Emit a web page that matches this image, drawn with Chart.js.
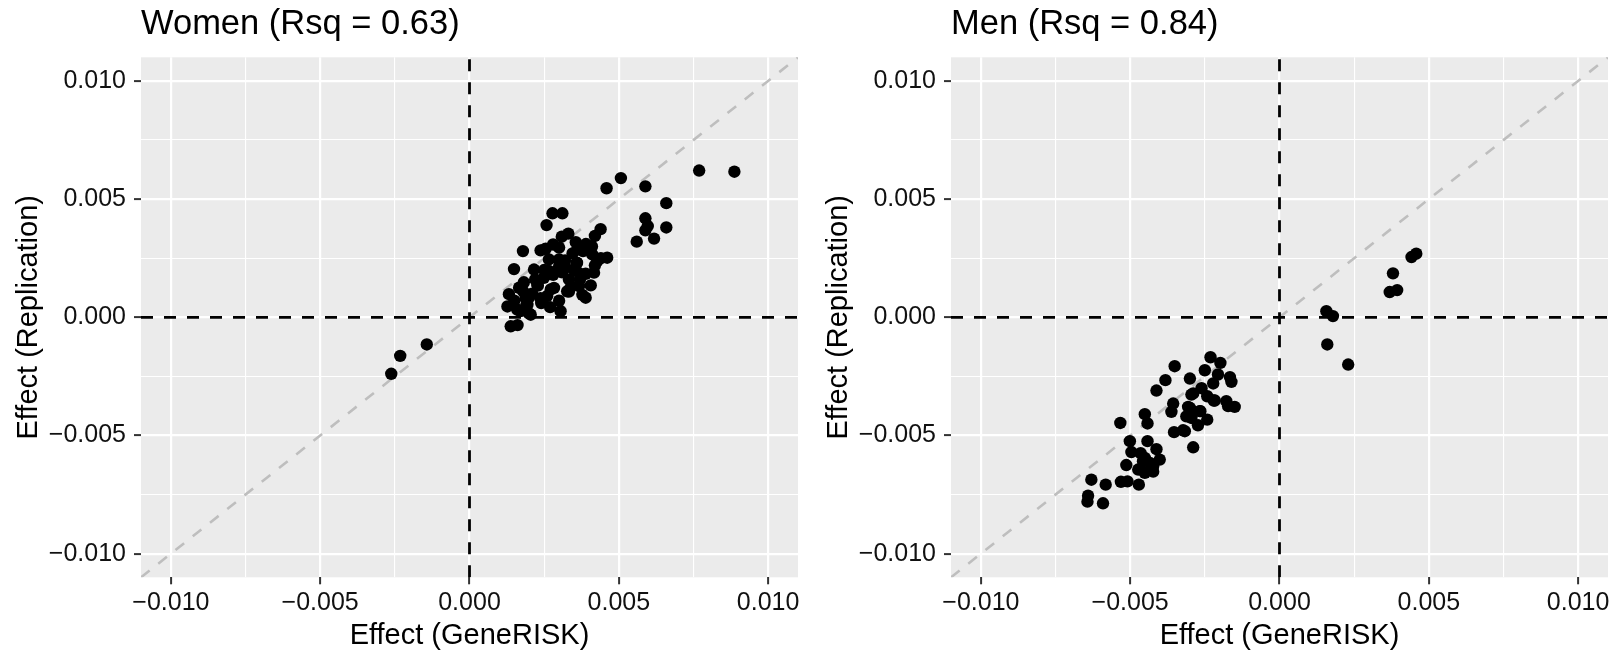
<!DOCTYPE html>
<html>
<head>
<meta charset="utf-8">
<title>GeneRISK replication</title>
<script src="https://cdn.jsdelivr.net/npm/chart.js@4.4.1/dist/chart.umd.min.js"></script>
<style>
  body { margin: 0; background: #fff; overflow: hidden; }
  .panel { position: absolute; top: 0; width: 810px; height: 656px; }
  #left { left: 0; }
  #right { left: 810px; }
</style>
</head>
<body>
<div class="panel" id="left"><canvas id="womenChart"></canvas></div>
<div class="panel" id="right"><canvas id="menChart"></canvas></div>
<script>
// effect sizes
const womenX = [0.00769, 0.00887, 0.00507, 0.00459, 0.00589, 0.00659, 0.00589, 0.00597, 0.00589, 0.00659,
  0.00560, 0.00618, -0.00143, -0.00232, -0.00262, 0.00278, 0.00311, 0.00258, 0.00179, 0.00238,
  0.00439, 0.00420, 0.00331, 0.00309, 0.00356, 0.00280, 0.00400, 0.00361, 0.00411, 0.00461,
  0.00428, 0.00359, 0.00266, 0.00300, 0.00149, 0.00216, 0.00266, 0.00322, 0.00389, 0.00417,
  0.00249, 0.00333, 0.00182, 0.00406, 0.00229, 0.00367, 0.00272, 0.00166, 0.00132, 0.00327,
  0.00389, 0.00199, 0.00127, 0.00270, 0.00305, 0.00171, 0.00199, 0.00138, 0.00161, 0.00378,
  0.00333, 0.00283, 0.00194, 0.00160, 0.00205, 0.00238, 0.00188, 0.00367, 0.00300, 0.00227,
  0.00345, 0.00380, 0.00390, 0.00300, 0.00250, 0.00280, 0.00320, 0.00350, 0.00210, 0.00240,
  0.00300, 0.00420, 0.00440, 0.00370, 0.00255, 0.00150, 0.00180, 0.00220, 0.00260, 0.00340,
  0.00310, 0.00190, 0.00360, 0.00410];
const womenY = [0.00621, 0.00616, 0.00589, 0.00546, 0.00554, 0.00483, 0.00419, 0.00386, 0.00368, 0.00380,
  0.00320, 0.00333, -0.00115, -0.00163, -0.00239, 0.00440, 0.00440, 0.00390, 0.00280, 0.00283,
  0.00373, 0.00344, 0.00354, 0.00341, 0.00318, 0.00308, 0.00301, 0.00287, 0.00266, 0.00252,
  0.00238, 0.00231, 0.00245, 0.00245, 0.00204, 0.00202, 0.00196, 0.00210, 0.00184, 0.00189,
  0.00167, 0.00160, 0.00148, 0.00135, 0.00134, 0.00132, 0.00118, 0.00125, 0.00098, 0.00110,
  0.00083, 0.00083, 0.00046, 0.00043, 0.00026, 0.00026, 0.00017, -0.00038, -0.00033, 0.00095,
  0.00109, 0.00124, 0.00053, 0.00032, 0.00011, 0.00081, 0.00081, 0.00187, 0.00215, 0.00138,
  0.00270, 0.00280, 0.00310, 0.00295, 0.00200, 0.00180, 0.00240, 0.00200, 0.00100, 0.00060,
  0.00070, 0.00220, 0.00250, 0.00160, 0.00290, 0.00070, 0.00110, 0.00160, 0.00090, 0.00130,
  0.00190, 0.00050, 0.00230, 0.00300];

const menX = [-0.00231, -0.00198, -0.00351, -0.00250, -0.00206, -0.00300, -0.00382, -0.00166, -0.00161, -0.00222,
  -0.00261, -0.00412, -0.00289, -0.00242, -0.00220, -0.00178, -0.00150, -0.00172, -0.00356, -0.00362,
  -0.00306, -0.00265, -0.00312, -0.00295, -0.00242, -0.00273, -0.00451, -0.00442, -0.00323, -0.00353,
  -0.00533, -0.00501, -0.00442, -0.00289, -0.00496, -0.00412, -0.00465, -0.00451, -0.00401, -0.00434,
  -0.00513, -0.00473, -0.00423, -0.00451, -0.00630, -0.00582, -0.00531, -0.00509, -0.00471, -0.00641,
  -0.00643, -0.00591, -0.00457, -0.00423, -0.00317, -0.00295, -0.00300, -0.00267, -0.00217,
  0.00157, 0.00179, 0.00160, 0.00230, 0.00380, 0.00369, 0.00394, 0.00442, 0.00458];
const menY = [-0.00169, -0.00193, -0.00207, -0.00224, -0.00242, -0.00259, -0.00266, -0.00253, -0.00273, -0.00280,
  -0.00300, -0.00310, -0.00322, -0.00334, -0.00352, -0.00355, -0.00379, -0.00376, -0.00365, -0.00400,
  -0.00379, -0.00397, -0.00419, -0.00426, -0.00433, -0.00457, -0.00410, -0.00449, -0.00478, -0.00486,
  -0.00447, -0.00524, -0.00524, -0.00550, -0.00570, -0.00558, -0.00575, -0.00595, -0.00602, -0.00616,
  -0.00625, -0.00644, -0.00653, -0.00658, -0.00687, -0.00708, -0.00696, -0.00694, -0.00708, -0.00755,
  -0.00780, -0.00787, -0.00609, -0.00630, -0.00482, -0.00327, -0.00383, -0.00397, -0.00352,
  0.00026, 0.00005, -0.00115, -0.00200, 0.00186, 0.00107, 0.00115, 0.00255, 0.00269];

const tickValues = [-0.01, -0.0075, -0.005, -0.0025, 0, 0.0025, 0.005, 0.0075, 0.01];
const axisLimit = 0.011;

const fontFamily = '"Liberation Sans", Arial, Helvetica, sans-serif';
Chart.defaults.font.family = fontFamily;

// grey panel background like ggplot
const panelBg = {
  id: 'panelBg',
  beforeDraw(chart) {
    const a = chart.chartArea;
    const ctx = chart.ctx;
    ctx.save();
    ctx.fillStyle = '#EBEBEB';
    ctx.fillRect(a.left, a.top, a.right - a.left, a.bottom - a.top);
    ctx.restore();
  }
};

function fmt(v) {
  return v.toFixed(3).replace('-', '\u2212');
}

function axis(title, isX) {
  return {
    type: 'linear',
    min: -axisLimit,
    max: axisLimit,
    afterBuildTicks: s => { s.ticks = tickValues.map(v => ({ value: v })); },
    afterFit: s => {
      if (isX) s.height = 78.7;
      else s.width = 141;
    },
    border: { display: false },
    grid: {
      color: '#FFFFFF',
      lineWidth: c => (c.index % 2 === 0 ? 2.2 : 1.1),
      tickColor: c => (c.index % 2 === 0 ? '#333333' : 'rgba(0,0,0,0)'),
      tickLength: 7,
      tickWidth: 2
    },
    ticks: {
      autoSkip: false,
      maxRotation: 0,
      padding: isX ? 4 : 8,
      color: '#111111',
      font: { size: 25 },
      callback: (v, i) => (i % 2 === 0 ? fmt(v) : '')
    },
    title: {
      display: true,
      text: title,
      color: '#000000',
      font: { size: 29 },
      padding: isX ? { top: 0, bottom: 3 } : { top: 12, bottom: 0 }
    }
  };
}

function pairs(xs, ys) {
  return xs.map((x, i) => ({ x: x, y: ys[i] }));
}

function makeChart(id, titleText, xs, ys) {
  const ctx = document.getElementById(id).getContext('2d');
  return new Chart(ctx, {
    type: 'scatter',
    data: {
      datasets: [
        {
          label: 'points',
          data: pairs(xs, ys),
          backgroundColor: '#000000',
          borderWidth: 0,
          pointRadius: 6.2
        },
        {
          type: 'line',
          label: 'zero x',
          data: [{ x: 0, y: -axisLimit }, { x: 0, y: axisLimit }],
          borderColor: '#000000',
          borderWidth: 2.8,
          borderDash: [12, 11],
          pointRadius: 0
        },
        {
          type: 'line',
          label: 'zero y',
          data: [{ x: -axisLimit, y: 0 }, { x: axisLimit, y: 0 }],
          borderColor: '#000000',
          borderWidth: 2.8,
          borderDash: [12, 11],
          pointRadius: 0
        },
        {
          type: 'line',
          label: 'identity',
          data: [{ x: -axisLimit, y: -axisLimit }, { x: axisLimit, y: axisLimit }],
          borderColor: '#BEBEBE',
          borderWidth: 2.6,
          borderDash: [11, 11],
          pointRadius: 0
        }
      ]
    },
    options: {
      responsive: true,
      maintainAspectRatio: false,
      animation: false,
      events: [],
      layout: { padding: { top: 0, right: 12, bottom: 0, left: 0 } },
      plugins: {
        legend: { display: false },
        tooltip: { enabled: false },
        title: {
          display: true,
          text: titleText,
          align: 'start',
          fullSize: false,
          color: '#000000',
          font: { size: 34.5, weight: 'normal' },
          padding: { top: 4, bottom: 11.9 }
        }
      },
      scales: {
        x: axis('Effect (GeneRISK)', true),
        y: axis('Effect (Replication)', false)
      }
    },
    plugins: [panelBg]
  });
}

makeChart('womenChart', 'Women (Rsq = 0.63)', womenX, womenY);
makeChart('menChart', 'Men (Rsq = 0.84)', menX, menY);
</script>
</body>
</html>
